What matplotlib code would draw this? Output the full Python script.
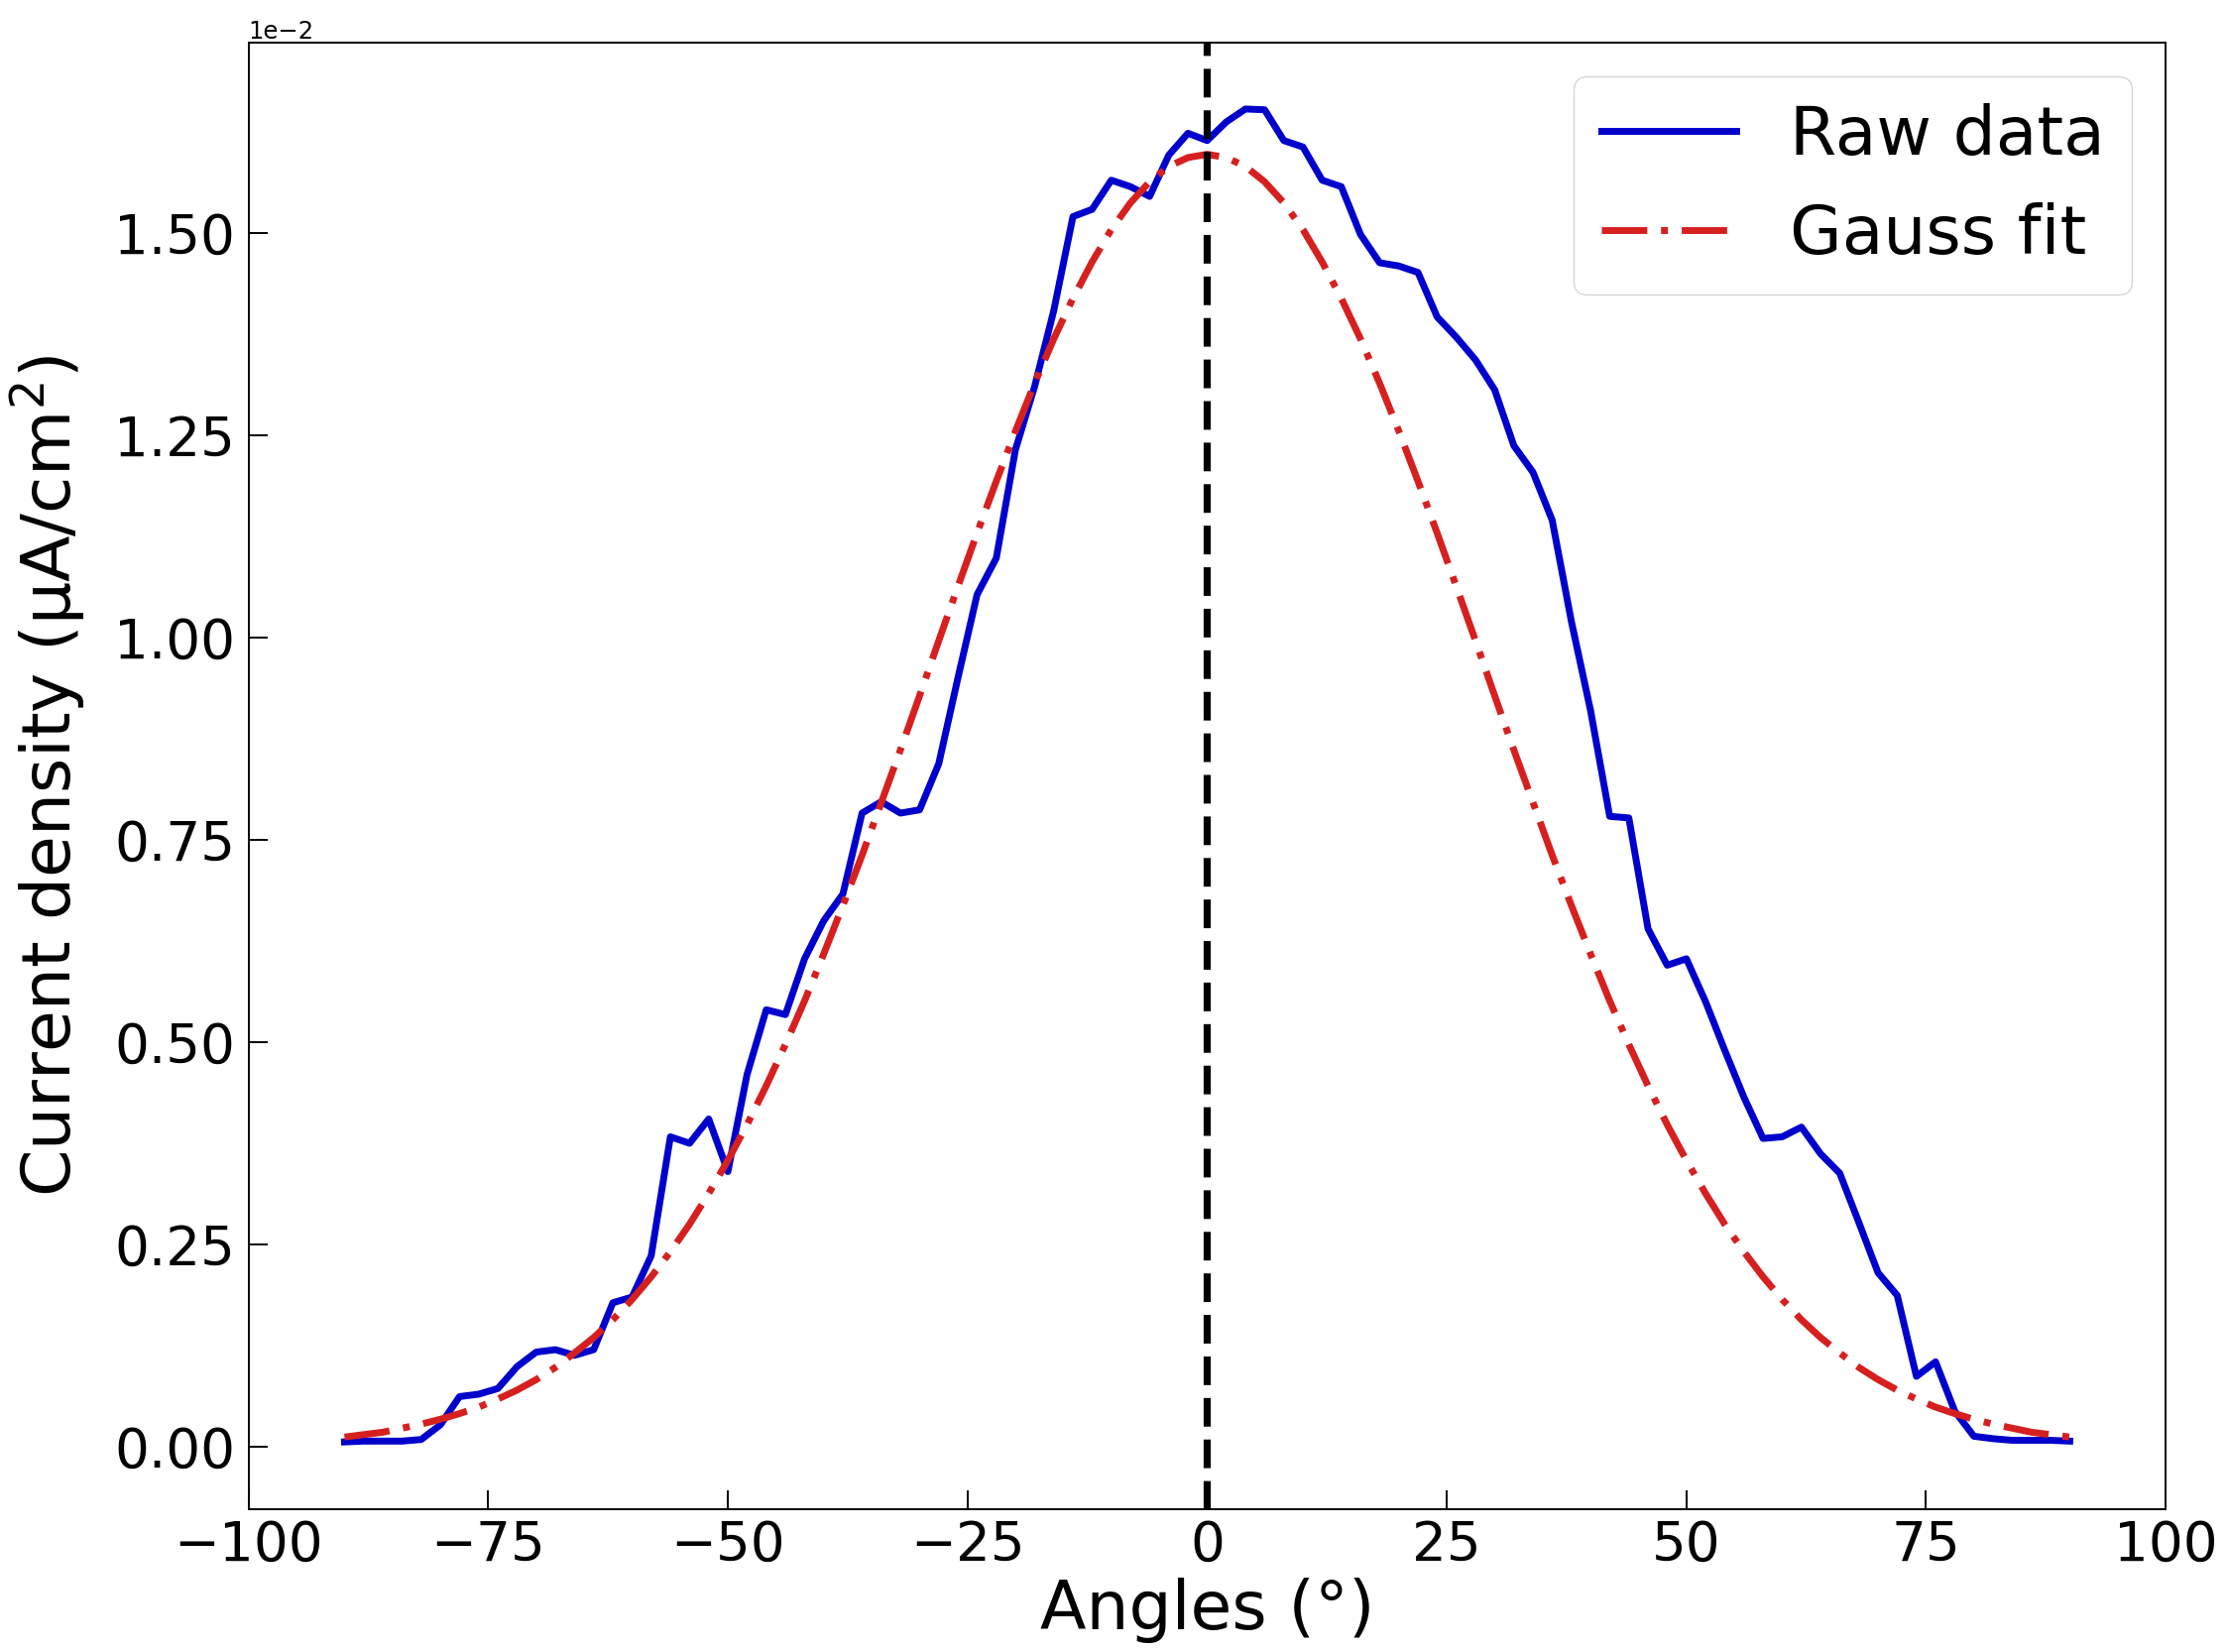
import numpy as np
import matplotlib
matplotlib.use("Agg")
import matplotlib.pyplot as plt

# ---- data (current density in units of 1e-2 uA/cm^2) ----
angles = list(range(-90, 91, 2))

raw_density = [
    0.006, 0.007, 0.007, 0.007, 0.009, 0.027, 0.062, 0.065, 0.072, 0.099,
    0.117, 0.120, 0.113, 0.120, 0.178, 0.185, 0.236, 0.383, 0.375, 0.405,
    0.340, 0.460, 0.540, 0.534, 0.603, 0.650, 0.683, 0.783, 0.797, 0.783,
    0.787, 0.844, 0.950, 1.053, 1.098, 1.232, 1.310, 1.404, 1.520, 1.529,
    1.565, 1.557, 1.545, 1.596, 1.623, 1.614, 1.637, 1.653, 1.652, 1.614,
    1.606, 1.565, 1.557, 1.498, 1.463, 1.459, 1.451, 1.396, 1.371, 1.343,
    1.306, 1.237, 1.204, 1.145, 1.020, 0.910, 0.779, 0.777, 0.640, 0.595,
    0.603, 0.550, 0.490, 0.432, 0.381, 0.383, 0.395, 0.362, 0.338, 0.277,
    0.215, 0.187, 0.087, 0.105, 0.044, 0.013, 0.010, 0.008, 0.008, 0.008,
    0.007,
]

gauss_fit = [
    0.012, 0.015, 0.018, 0.023, 0.028, 0.034, 0.041, 0.049, 0.059, 0.070,
    0.083, 0.098, 0.116, 0.135, 0.157, 0.182, 0.210, 0.241, 0.275, 0.313,
    0.354, 0.398, 0.446, 0.497, 0.551, 0.609, 0.669, 0.731, 0.796, 0.861,
    0.928, 0.996, 1.063, 1.129, 1.193, 1.255, 1.314, 1.369, 1.419, 1.464,
    1.504, 1.537, 1.563, 1.582, 1.593, 1.597, 1.593, 1.582, 1.563, 1.537,
    1.504, 1.464, 1.419, 1.369, 1.314, 1.255, 1.193, 1.129, 1.063, 0.996,
    0.928, 0.861, 0.796, 0.731, 0.669, 0.609, 0.551, 0.497, 0.446, 0.398,
    0.354, 0.313, 0.275, 0.241, 0.210, 0.182, 0.157, 0.135, 0.116, 0.098,
    0.083, 0.070, 0.059, 0.049, 0.041, 0.034, 0.028, 0.023, 0.018, 0.015,
    0.012,
]

unit_scale = 1e-2
x_ticks = [-100, -75, -50, -25, 0, 25, 50, 75, 100]
y_ticks = [0.00, 0.25, 0.50, 0.75, 1.00, 1.25, 1.50]

series_labels = ["Raw data", "Gauss fit"]
x_label = "Angles (°)"
y_label = "Current density (µA/cm$^2$)"

# ---- figure ----
fig = plt.figure(figsize=(22.47, 16.66), dpi=100)
ax = fig.add_axes([0.1116, 0.0866, 0.8604, 0.8876])

ax.plot(angles, np.array(raw_density) * unit_scale, color="#0000cd",
        lw=5.0, label=series_labels[0])
ax.plot(angles, np.array(gauss_fit) * unit_scale, color="#d62020",
        lw=5.0, linestyle=(0, (6.6, 2.0, 1.0, 2.0)), label=series_labels[1])
ax.axvline(0, color="black", lw=5.2, linestyle=(0, (4.0, 1.8)))

ax.set_xlim(-100, 100)
ax.set_ylim(-0.0768 * unit_scale, 1.735 * unit_scale)
ax.set_xticks(x_ticks)
ax.set_yticks(np.array(y_ticks) * unit_scale)
ax.ticklabel_format(axis="y", style="sci", scilimits=(0, 0))

ax.tick_params(axis="both", direction="in", length=13.5, width=1.4,
               labelsize=39.5, top=False, right=False)
ax.tick_params(axis="x", pad=7)
ax.tick_params(axis="y", pad=10)
ax.yaxis.get_offset_text().set_fontsize(17.5)

for sp in ax.spines.values():
    sp.set_linewidth(1.4)

ax.set_xlabel(x_label, fontsize=49)
ax.set_ylabel(y_label, fontsize=49)
ax.xaxis.set_label_coords(0.5, -0.047)
ax.yaxis.set_label_coords(-0.084, 0.5)

ax.legend(loc="upper right", fontsize=49)

fig.savefig("out.png", dpi=100)
